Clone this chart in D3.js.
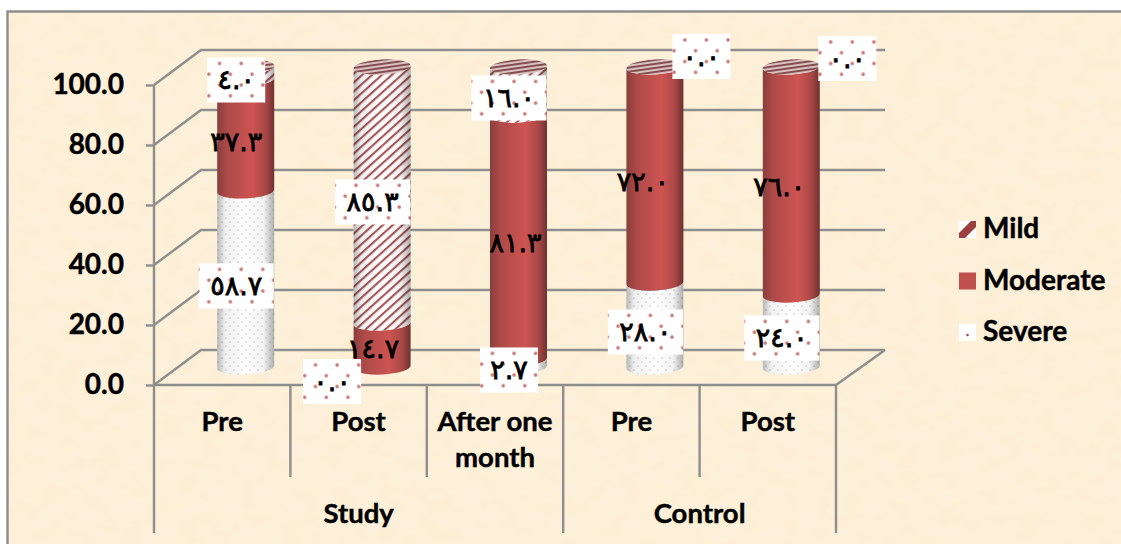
<!DOCTYPE html>
<html>
<head>
<meta charset="utf-8">
<script src="https://cdn.jsdelivr.net/npm/d3@7"></script>
<style>
    html, body { margin: 0; padding: 0; background: #fff; overflow: hidden; }
    text { font-family: Lato, sans-serif; font-weight: 700; fill: #000; stroke: #000; stroke-width: 0.45px; }
    .value-label { font-family: "DejaVu Sans", sans-serif; font-weight: 400; font-size: 27px; letter-spacing: 1.5px; stroke-width: 0.8px; direction: ltr; }
</style>
</head>
<body>
<div id="chart"></div>
<script>
// values
const categories = ["Pre", "Post", "After one month", "Pre", "Post"];
const groups = ["Study", "Control"];
const groupSizes = [3, 2];
const severe = [58.7, 0.0, 2.7, 28.0, 24.0];
const moderate = [37.3, 14.7, 81.3, 72.0, 76.0];
const mild = [4.0, 85.3, 16.0, 0.0, 0.0];
const yTicks = [0, 20, 40, 60, 80, 100];
const legendLabels = ["Mild", "Moderate", "Severe"];

const width = 1121;
const height = 544;
const lineColor = "#8e8e8e";

const svg = d3.select("#chart").append("svg")
    .attr("width", width)
    .attr("height", height)
    .style("display", "block");

const defs = svg.append("defs");

// Parchment texture, very faint
const paper = defs.append("filter").attr("id", "paper")
    .attr("x", 0).attr("y", 0).attr("width", "100%").attr("height", "100%");
paper.append("feTurbulence")
    .attr("type", "fractalNoise")
    .attr("baseFrequency", "0.05 0.07")
    .attr("numOctaves", 2)
    .attr("seed", 7);
paper.append("feColorMatrix")
    .attr("type", "matrix")
    .attr("values", "0 0 0 0 0.97  0 0 0 0 0.85  0 0 0 0 0.6  0.9 0 0 0 -0.33");

const redGradient = defs.append("linearGradient").attr("id", "redFill");
[[0, "#8a3e3c"], [0.18, "#ad4a48"], [0.62, "#cd5452"], [0.85, "#a94846"], [1, "#6f3130"]]
    .forEach(s => redGradient.append("stop").attr("offset", s[0]).attr("stop-color", s[1]));

const shade = defs.append("linearGradient").attr("id", "shade");
[[0, 0.28], [0.14, 0.06], [0.5, 0], [0.82, 0.05], [1, 0.32]]
    .forEach(s => shade.append("stop").attr("offset", s[0]).attr("stop-color", "#000").attr("stop-opacity", s[1]));

// Fine dots on the cylinders
const dotFine = defs.append("pattern").attr("id", "dotFine")
    .attr("patternUnits", "userSpaceOnUse").attr("width", 8).attr("height", 8);
dotFine.append("rect").attr("width", 8).attr("height", 8).attr("fill", "#fff");
dotFine.append("circle").attr("cx", 2).attr("cy", 2).attr("r", 0.6).attr("fill", "#9a8a8a");
dotFine.append("circle").attr("cx", 6).attr("cy", 6).attr("r", 0.6).attr("fill", "#9a8a8a");

// Larger dots on the label boxes
const dotBox = defs.append("pattern").attr("id", "dotBox")
    .attr("patternUnits", "userSpaceOnUse").attr("width", 21.6).attr("height", 21.6);
dotBox.append("rect").attr("width", 21.6).attr("height", 21.6).attr("fill", "#fff");
dotBox.append("circle").attr("cx", 5).attr("cy", 5).attr("r", 1.8).attr("fill", "#c97878");
dotBox.append("circle").attr("cx", 15.8).attr("cy", 15.8).attr("r", 1.8).attr("fill", "#c97878");

// Diagonal stripes
const stripes = defs.append("pattern").attr("id", "stripes")
    .attr("patternUnits", "userSpaceOnUse").attr("width", 6.6).attr("height", 6.6)
    .attr("patternTransform", "rotate(-42)");
stripes.append("rect").attr("width", 6.6).attr("height", 6.6).attr("fill", "#fff");
stripes.append("rect").attr("width", 6.6).attr("height", 2.1).attr("fill", "#a85656");

// Stripes seen on the cap of each cylinder
const capLines = defs.append("pattern").attr("id", "capLines")
    .attr("patternUnits", "userSpaceOnUse").attr("width", 4).attr("height", 4)
    .attr("patternTransform", "rotate(-5)");
capLines.append("rect").attr("width", 4).attr("height", 4).attr("fill", "#d9c2c0");
capLines.append("rect").attr("width", 4).attr("height", 1.9).attr("fill", "#80484a");

// Background
svg.append("rect").attr("x", 7).attr("y", 11).attr("width", width - 7).attr("height", height - 11).attr("fill", "#fdf0da");
svg.append("rect").attr("x", 7).attr("y", 11).attr("width", width - 7).attr("height", height - 11).attr("filter", "url(#paper)");
svg.append("path")
    .attr("d", `M7.5,${height}V11.5H${width}`)
    .attr("fill", "none")
    .attr("stroke", lineColor)
    .attr("stroke-width", 2.4);

// Scales, 3D depth is a plain shift towards the back wall
const x = d3.scaleBand().domain(d3.range(categories.length)).range([154, 836]);
const y = d3.scaleLinear().domain([0, 100]).range([385, 85]);
const depthX = 47;
const depthY = -35;
const barShiftX = 23.5;
const barShiftY = -18;

// Walls and floor
const walls = svg.append("g")
    .attr("fill", "none")
    .attr("stroke", lineColor)
    .attr("stroke-width", 2.4);

yTicks.forEach(t => {
    walls.append("path")
        .attr("d", `M154,${y(t)}L${154 + depthX},${y(t) + depthY}H885`);
});
walls.append("path")
    .attr("d", `M154,${y(0)}H836L885,${y(0) + depthY}`);

const yAxis = svg.append("g")
    .attr("transform", "translate(154,0)")
    .call(d3.axisLeft(y).tickValues(yTicks).tickSize(8).tickPadding(22).tickFormat(d3.format(".1f")));
yAxis.selectAll("path").remove();
yAxis.selectAll("line").attr("stroke", lineColor).attr("stroke-width", 2.4);
yAxis.selectAll("text").style("font-size", "28px").attr("fill", "#000");

// Category separators, long ones mark the groups
const groupEdges = d3.cumsum(groupSizes);
const edges = d3.range(categories.length + 1);
svg.append("g").selectAll("line")
    .data(edges)
    .enter()
    .append("line")
    .attr("x1", d => 154 + d * x.step())
    .attr("x2", d => 154 + d * x.step())
    .attr("y1", d => (d === 0 ? y(100) : y(0)))
    .attr("y2", d => (d === 0 || groupEdges.includes(d) ? 533 : 477))
    .attr("stroke", lineColor)
    .attr("stroke-width", 2.4);

// Category labels
svg.append("g").selectAll("text")
    .data(categories)
    .enter()
    .append("text")
    .attr("text-anchor", "middle")
    .style("font-size", "27.5px")
    .each(function (d, i) {
        const words = d === "After one month" ? ["After one", "month"] : [d];
        d3.select(this).selectAll("tspan")
            .data(words)
            .enter()
            .append("tspan")
            .attr("x", x(i) + x.bandwidth() / 2)
            .attr("y", (w, j) => 431 + j * 36)
            .text(w => w);
    });

svg.append("g").selectAll("text")
    .data(groups)
    .enter()
    .append("text")
    .attr("text-anchor", "middle")
    .style("font-size", "27.5px")
    .attr("x", (d, i) => {
        const start = i === 0 ? 0 : groupEdges[i - 1];
        return 154 + (start + groupEdges[i]) / 2 * x.step();
    })
    .attr("y", 523)
    .text(d => d);

// Cylinders
const rx = 28.5;
const ry = 7.5;
const tilt = 3;
const lift = rx * Math.sin(tilt * Math.PI / 180);

const rows = categories.map((c, i) => ({ index: i, severe: severe[i], moderate: moderate[i], mild: mild[i] }));
const keys = ["severe", "moderate", "mild"];
const stack = d3.stack().keys(keys)(rows);
const fills = { severe: "url(#dotFine)", moderate: "url(#redFill)", mild: "url(#stripes)" };

const barX = i => x(i) + x.bandwidth() / 2 + barShiftX;
const barY = v => y(v) + barShiftY;

const segment = (cx, top, bottom) =>
    `M${cx - rx},${top + lift}A${rx},${ry} ${-tilt} 0 0 ${cx + rx},${top - lift}` +
    `L${cx + rx},${bottom - lift}A${rx},${ry} ${-tilt} 0 1 ${cx - rx},${bottom + lift}Z`;

stack.forEach(layer => {
    const g = svg.append("g");
    const parts = layer.filter(d => d[1] - d[0] > 0);
    g.selectAll("path.part")
        .data(parts)
        .enter()
        .append("path")
        .attr("class", "part")
        .attr("fill", fills[layer.key])
        .attr("d", d => segment(barX(d.data.index), barY(d[1]), barY(d[0])));
    if (layer.key !== "moderate") {
        g.selectAll("path.shade")
            .data(parts)
            .enter()
            .append("path")
            .attr("class", "shade")
            .attr("fill", "url(#shade)")
            .attr("d", d => segment(barX(d.data.index), barY(d[1]), barY(d[0])));
    }
});

svg.append("g").selectAll("ellipse")
    .data(rows)
    .enter()
    .append("ellipse")
    .attr("rx", rx)
    .attr("ry", ry)
    .attr("fill", "url(#capLines)")
    .attr("transform", d => `translate(${barX(d.index)},${barY(100)}) rotate(${-tilt})`);

// Value labels in Eastern Arabic digits
const arabicDigits = "٠١٢٣٤٥٦٧٨٩";
const toArabic = v => v.toFixed(1).replace(/\d/g, c => arabicDigits[+c]);

// Zero-height labels were dragged off the bars in the original
const labelNudge = {
    "severe-1": [-50, 14.5],
    "moderate-1": [-9, 4],
    "moderate-2": [-3, 6],
    "moderate-3": [-12, 7],
    "moderate-4": [-12, 5.5],
    "mild-3": [46.5, -10.5],
    "mild-4": [56, -8.5]
};
const defaultNudge = [-9.5, 7];

const labels = stack.flatMap(layer => layer.map(d => ({
    key: layer.key,
    index: d.data.index,
    value: d.data[layer.key],
    mid: (d[0] + d[1]) / 2
})));

const label = svg.append("g").selectAll("g")
    .data(labels)
    .enter()
    .append("g")
    .attr("transform", d => {
        const n = labelNudge[`${d.key}-${d.index}`] || defaultNudge;
        return `translate(${barX(d.index) + n[0]},${barY(d.mid) + n[1]})`;
    });

label.filter(d => d.key !== "moderate")
    .append("rect")
    .attr("x", d => (d.value >= 10 ? -37.5 : -29))
    .attr("y", -22.5)
    .attr("width", d => (d.value >= 10 ? 75 : 58))
    .attr("height", 45)
    .attr("fill", "url(#dotBox)");

label.append("text")
    .attr("class", "value-label")
    .attr("text-anchor", "middle")
    .attr("y", 9)
    .text(d => toArabic(d.value));

// Legend
const legend = svg.selectAll(".legend")
    .data(legendLabels)
    .enter()
    .append("g")
    .attr("class", "legend")
    .attr("transform", (d, i) => `translate(959, ${221 + i * 51.5})`);

legend.append("rect")
    .attr("width", 17)
    .attr("height", 17)
    .attr("fill", d => (d === "Moderate" ? "#c0504d" : "#fff"));

legend.filter(d => d === "Mild").append("polygon")
    .attr("points", "0,17 6,17 17,6 17,0 12,0 0,12")
    .attr("fill", "#9c3f3f");

legend.filter(d => d === "Severe").append("circle")
    .attr("cx", 8.5)
    .attr("cy", 11)
    .attr("r", 1.3)
    .attr("fill", "#a04a60");

legend.append("text")
    .attr("x", 24)
    .attr("y", 17)
    .style("font-size", "28px")
    .text(d => d);
</script>
</body>
</html>
